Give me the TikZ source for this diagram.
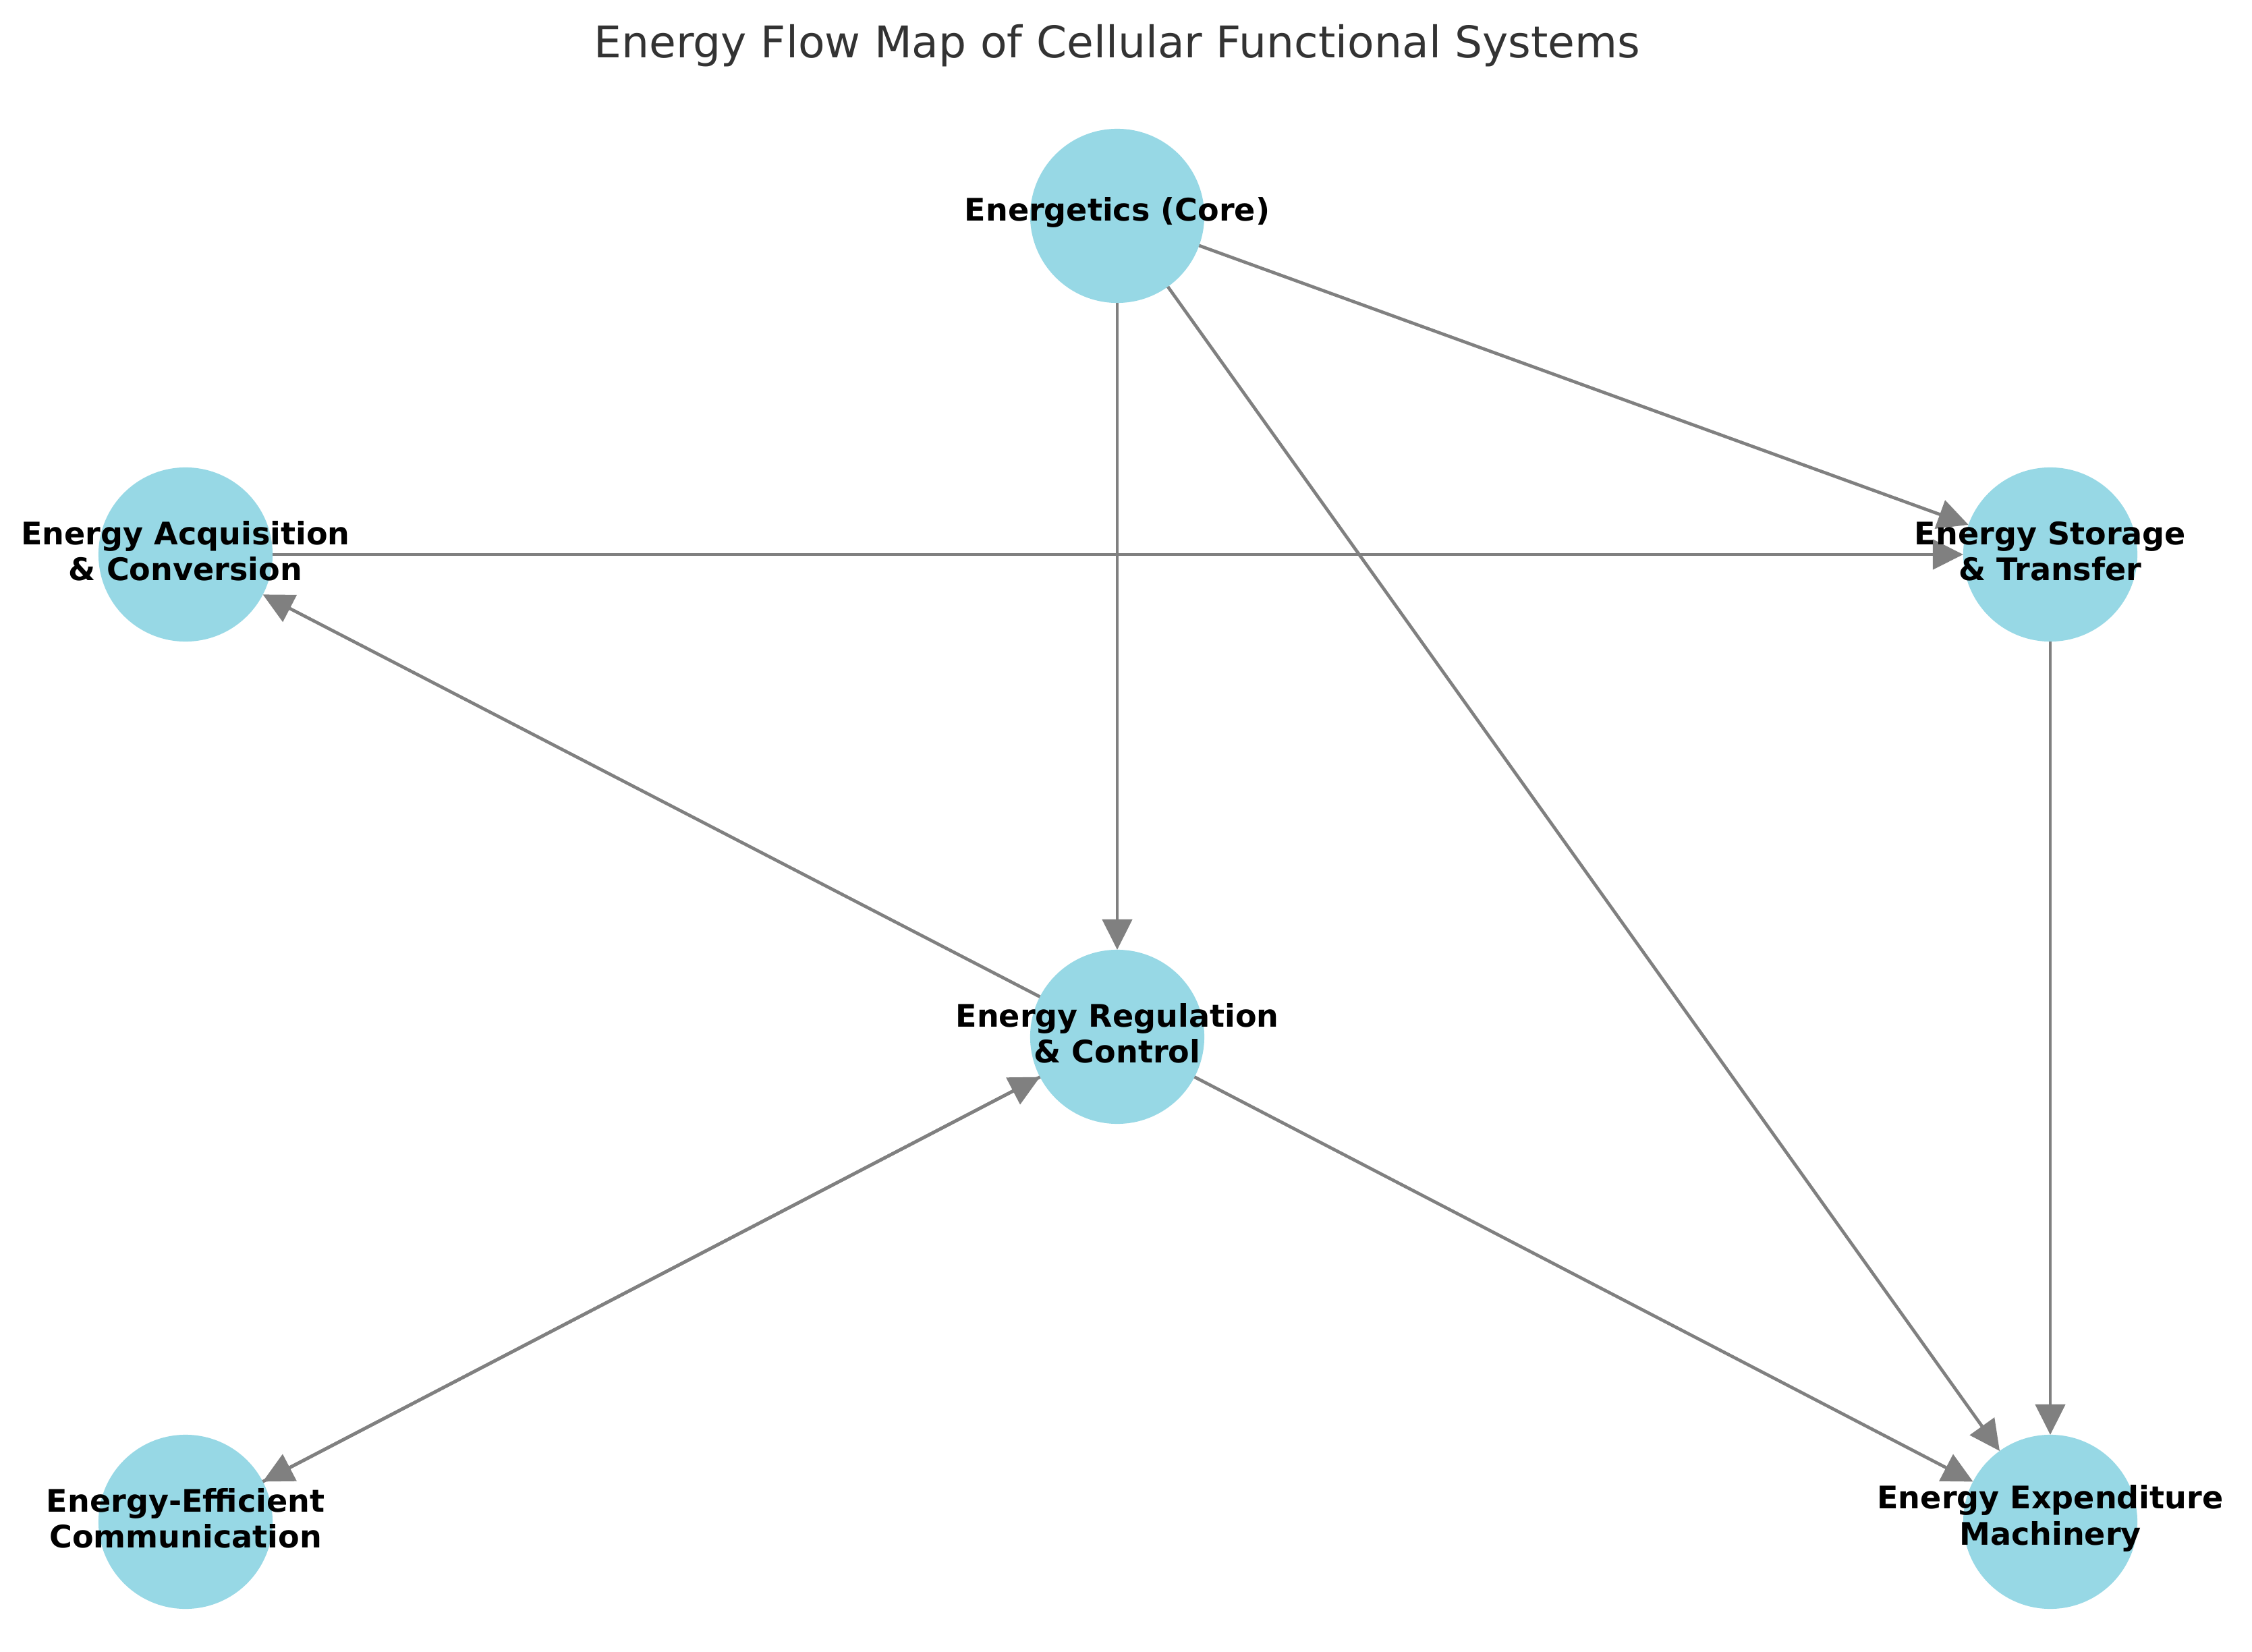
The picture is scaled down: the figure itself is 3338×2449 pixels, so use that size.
\documentclass[tikz,border=0pt]{standalone}
\usepackage{fontspec}
\setmainfont{DejaVu Sans}
\usetikzlibrary{arrows.meta}
\definecolor{nodefill}{HTML}{97D8E5}
\definecolor{edgegray}{HTML}{808080}
\definecolor{titlegray}{HTML}{333333}
\begin{document}
\begin{tikzpicture}[x=0.01cm,y=-0.01cm,
  circ/.style={circle,fill=nodefill,minimum size=2.58cm,inner sep=0pt,outer sep=0pt},
  lbl/.style={align=center,font=\fontsize{13.1pt}{15.1pt}\selectfont\bfseries,text=black,inner sep=0pt,yshift=0.05cm},
  flow/.style={draw=edgegray,line width=1.35pt,-{Triangle[length=0.45cm,width=0.44cm]}}]
\fill[white] (0,0) rectangle (3338,2449);
\useasboundingbox (0,0) rectangle (3338,2449);
\node[anchor=base,font=\fontsize{18.4pt}{22pt}\selectfont,text=titlegray,inner sep=0pt] (title) at (1656,86) {Energy Flow Map of Cellular Functional Systems};
% circles
\node[circ] (core) at (1656,320) {};
\node[circ] (acq) at (275,822) {};
\node[circ] (sto) at (3039,822) {};
\node[circ] (reg) at (1656,1537) {};
\node[circ] (com) at (275,2256) {};
\node[circ] (exp) at (3039,2256) {};
% edges
\draw[flow] (core) -- (sto);
\draw[flow] (core) -- (reg);
\draw[flow] (core) -- (exp);
\draw[flow] (acq) -- (sto);
\draw[flow] (reg) -- (acq);
\draw[flow] (reg) -- (com);
\draw[flow] (com) -- (reg);
\draw[flow] (reg) -- (exp);
\draw[flow] (sto) -- (exp);
% labels
\node[lbl] (lcore) at (core) {Energetics (Core)};
\node[lbl] (lacq) at (acq) {Energy Acquisition\\\& Conversion};
\node[lbl] (lsto) at (sto) {Energy Storage\\\& Transfer};
\node[lbl] (lreg) at (reg) {Energy Regulation\\\& Control};
\node[lbl] (lcom) at (com) {Energy-Efficient\\Communication};
\node[lbl] (lexp) at (exp) {Energy Expenditure\\Machinery};
\end{tikzpicture}
\end{document}
